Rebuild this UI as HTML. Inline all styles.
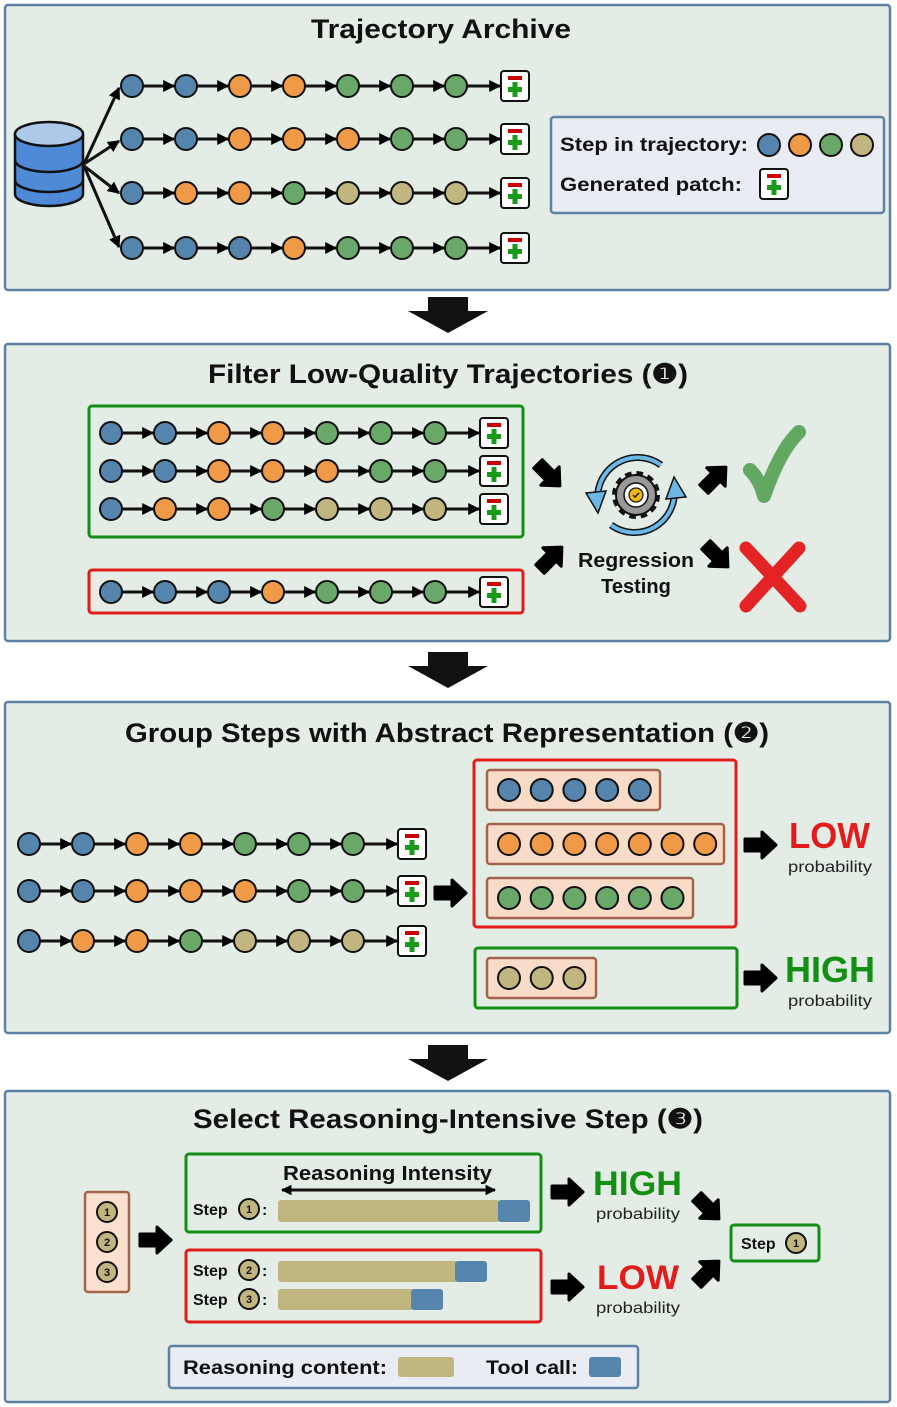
<!DOCTYPE html>
<html><head><meta charset="utf-8"><style>
html,body{margin:0;padding:0;background:#fff}
svg{display:block;font-family:"Liberation Sans",sans-serif}
.t{font-weight:bold;fill:#111}
</style></head><body>
<svg id="s" width="897" height="1407" viewBox="0 0 897 1407" xmlns="http://www.w3.org/2000/svg">
<defs>
<marker id="ah" viewBox="0 0 10 10" refX="9" refY="5" markerWidth="4.5" markerHeight="4" orient="auto"><path d="M0,0L10,5L0,10z" fill="#000"/></marker>
<marker id="ah2" viewBox="0 0 10 10" refX="9" refY="5" markerWidth="3.5" markerHeight="3.5" orient="auto-start-reverse"><path d="M0,0L10,5L0,10z" fill="#000"/></marker>
<path id="fat" d="M-17,-6L0,-6L0,-13L14,0L0,13L0,6L-17,6z" fill="#000" stroke="#000" stroke-width="3" stroke-linejoin="round"/>
<g id="patch"><rect x="-14" y="-15" width="28" height="30" rx="3" fill="#fff" stroke="#111" stroke-width="2"/><rect x="-7" y="-10" width="14" height="4" fill="#c00"/><rect x="-7" y="1" width="14" height="5" fill="#1a9a1a"/><rect x="-2.5" y="-4" width="5" height="15" fill="#1a9a1a"/></g>
</defs>
<g fill="#e3ece5" stroke="#5e80a4" stroke-width="2.5">
<rect x="5" y="5" width="885" height="285" rx="3"/>
<rect x="5" y="344" width="885" height="297" rx="3"/>
<rect x="5" y="702" width="885" height="331" rx="3"/>
<rect x="5" y="1091" width="885" height="311" rx="3"/>
</g>
<g fill="#111">
<path d="M428,297h40v14h20l-40,22l-40,-22h20z"/>
<path d="M428,652h40v14h20l-40,22l-40,-22h20z"/>
<path d="M428,1045h40v14h20l-40,22l-40,-22h20z"/>
</g>
<text class="t" x="311" y="38" font-size="27" textLength="260" lengthAdjust="spacingAndGlyphs">Trajectory Archive</text>
<text class="t" x="208" y="383" font-size="27" textLength="480" lengthAdjust="spacingAndGlyphs">Filter Low-Quality Trajectories (❶)</text>
<text class="t" x="125" y="742" font-size="27" textLength="644" lengthAdjust="spacingAndGlyphs">Group Steps with Abstract Representation (❷)</text>
<text class="t" x="193" y="1128" font-size="27" textLength="510" lengthAdjust="spacingAndGlyphs">Select Reasoning-Intensive Step (❸)</text>

<g stroke="#111" stroke-width="2.5">
<path d="M15,134v60a34,12 0 0 0 68,0v-60z" fill="#4f8ad6"/>
<ellipse cx="49" cy="134" rx="34" ry="12" fill="#aec8ea"/>
<path d="M15,160a34,12 0 0 0 68,0M15,180a34,12 0 0 0 68,0" fill="none"/>
</g>
<g stroke="#111" stroke-width="3" fill="none" marker-end="url(#ah)">
<path d="M84,164L119,88"/><path d="M84,164L119,141"/><path d="M84,166L119,193"/><path d="M84,166L119,247"/>
</g>

<rect x="551" y="117" width="333" height="96" rx="3" fill="#e9ecf2" stroke="#5e80a4" stroke-width="2.5"/>
<text class="t" x="560" y="151" font-size="19" textLength="188" lengthAdjust="spacingAndGlyphs">Step in trajectory:</text>
<text class="t" x="560" y="191" font-size="19" textLength="182" lengthAdjust="spacingAndGlyphs">Generated patch:</text>
<use href="#patch" x="774" y="184"/>

<rect x="89" y="406" width="434" height="131" rx="3" fill="none" stroke="#139013" stroke-width="3"/>
<rect x="89" y="570" width="434" height="43" rx="3" fill="none" stroke="#e21b1b" stroke-width="3"/>
<use href="#fat" transform="translate(550,476) rotate(45)"/>
<use href="#fat" transform="translate(552,557) rotate(-45)"/>
<use href="#fat" transform="translate(716,477) rotate(-45)"/>
<use href="#fat" transform="translate(718,557) rotate(45)"/>
<g transform="translate(636,495)">
<path d="M-38,8A40,40 0 0 1 25,-30" fill="none" stroke="#111" stroke-width="7"/>
<path d="M-38,8A40,40 0 0 1 25,-30" fill="none" stroke="#6bb7e6" stroke-width="4"/>
<path d="M38,-8A40,40 0 0 1 -25,30" fill="none" stroke="#111" stroke-width="7"/>
<path d="M38,-8A40,40 0 0 1 -25,30" fill="none" stroke="#6bb7e6" stroke-width="4"/>
<path d="M-50,-2L-38,18L-30,-4z" fill="#6bb7e6" stroke="#111" stroke-width="1.5"/>
<path d="M50,2L38,-18L30,4z" fill="#6bb7e6" stroke="#111" stroke-width="1.5"/>
<circle r="20" fill="#999" stroke="#111" stroke-width="8" stroke-dasharray="6 4.5"/>
<circle r="20" fill="#999" stroke="#111" stroke-width="2"/>
<circle r="12" fill="#fff" stroke="#111" stroke-width="1.5"/>
<circle r="7" fill="#f2b811" stroke="#111" stroke-width="1.2"/>
<path d="M-3,0l2,2l4,-4" stroke="#111" stroke-width="1.5" fill="none"/>
</g>
<text class="t" x="578" y="567" font-size="20" textLength="116" lengthAdjust="spacingAndGlyphs">Regression</text>
<text class="t" x="636" y="593" font-size="20" text-anchor="middle">Testing</text>
<path d="M750,470Q760,480 764,496Q780,450 799,432" fill="none" stroke="#62a862" stroke-width="14" stroke-linecap="round" stroke-linejoin="round"/>
<path d="M746,548L800,606M799,548L746,606" stroke="#e42424" stroke-width="13" stroke-linecap="round"/>

<use href="#fat" transform="translate(452,893)"/>
<rect x="474" y="760" width="262" height="167" rx="3" fill="none" stroke="#e21b1b" stroke-width="3"/>
<rect x="475" y="948" width="262" height="60" rx="3" fill="none" stroke="#139013" stroke-width="3"/>
<g fill="#f9dcc8" stroke="#a4634a" stroke-width="2.5">
<rect x="487" y="770" width="173" height="40" rx="3"/>
<rect x="487" y="824" width="237" height="40" rx="3"/>
<rect x="487" y="878" width="206" height="40" rx="3"/>
<rect x="487" y="958" width="109" height="40" rx="3"/>
</g>
<use href="#fat" transform="translate(762,845)"/>
<use href="#fat" transform="translate(762,978)"/>
<text x="789" y="848" font-size="36" font-weight="bold" fill="#e21b1b" textLength="81" lengthAdjust="spacingAndGlyphs">LOW</text>
<text x="788" y="872" font-size="16" fill="#222" textLength="84" lengthAdjust="spacingAndGlyphs">probability</text>
<text x="785" y="982" font-size="36" font-weight="bold" fill="#139013" textLength="90" lengthAdjust="spacingAndGlyphs">HIGH</text>
<text x="788" y="1006" font-size="16" fill="#222" textLength="84" lengthAdjust="spacingAndGlyphs">probability</text>

<rect x="85" y="1192" width="44" height="100" rx="3" fill="#fbe0d0" stroke="#a4634a" stroke-width="2.5"/>
<use href="#fat" transform="translate(157,1240)"/>
<rect x="186" y="1154" width="355" height="78" rx="3" fill="none" stroke="#139013" stroke-width="3"/>
<rect x="186" y="1250" width="355" height="72" rx="3" fill="none" stroke="#e21b1b" stroke-width="3"/>
<text class="t" x="283" y="1180" font-size="20" textLength="209" lengthAdjust="spacingAndGlyphs">Reasoning Intensity</text>
<path d="M282,1190H495" stroke="#111" stroke-width="3" marker-start="url(#ah2)" marker-end="url(#ah2)"/>
<g class="t" font-size="16"><text x="193" y="1215">Step</text><text x="193" y="1276">Step</text><text x="193" y="1305">Step</text>
<text x="262" y="1215">:</text><text x="262" y="1276">:</text><text x="262" y="1305">:</text></g>
<rect x="278" y="1200" width="222" height="22" rx="3" fill="#c2b680"/>
<rect x="498" y="1200" width="32" height="22" rx="3" fill="#5584ad"/>
<rect x="278" y="1261" width="180" height="21" rx="3" fill="#c2b680"/>
<rect x="455" y="1261" width="32" height="21" rx="3" fill="#5584ad"/>
<rect x="278" y="1289" width="136" height="21" rx="3" fill="#c2b680"/>
<rect x="411" y="1289" width="32" height="21" rx="3" fill="#5584ad"/>
<use href="#fat" transform="translate(569,1192)"/>
<use href="#fat" transform="translate(569,1287)"/>
<text x="593" y="1195" font-size="34" font-weight="bold" fill="#139013" textLength="89" lengthAdjust="spacingAndGlyphs">HIGH</text>
<text x="596" y="1219" font-size="16" fill="#222" textLength="84" lengthAdjust="spacingAndGlyphs">probability</text>
<text x="597" y="1289" font-size="34" font-weight="bold" fill="#e21b1b" textLength="82" lengthAdjust="spacingAndGlyphs">LOW</text>
<text x="596" y="1313" font-size="16" fill="#222" textLength="84" lengthAdjust="spacingAndGlyphs">probability</text>
<use href="#fat" transform="translate(709,1209) rotate(45)"/>
<use href="#fat" transform="translate(709,1271) rotate(-45)"/>
<rect x="731" y="1225" width="88" height="36" rx="3" fill="#e3ece5" stroke="#139013" stroke-width="3"/>
<text class="t" x="741" y="1249" font-size="16">Step</text>
<rect x="169" y="1346" width="469" height="42" rx="3" fill="#e9ecf2" stroke="#5e80a4" stroke-width="2.5"/>
<text class="t" x="183" y="1374" font-size="19" textLength="204" lengthAdjust="spacingAndGlyphs">Reasoning content:</text>
<rect x="398" y="1357" width="56" height="20" rx="3" fill="#c2b680"/>
<text class="t" x="486" y="1374" font-size="19" textLength="92" lengthAdjust="spacingAndGlyphs">Tool call:</text>
<rect x="589" y="1357" width="32" height="20" rx="3" fill="#5584ad"/>
<g id="dyn"></g>
</svg>
<script>
var C={B:"#5584ad",O:"#f09a48",G:"#6aa86a",T:"#c2b680"};
var g=document.getElementById("dyn"),NS="http://www.w3.org/2000/svg";
function el(t,a){var e=document.createElementNS(NS,t);for(var k in a)e.setAttribute(k,a[k]);g.appendChild(e);return e;}
function circ(x,y,c,r){el("circle",{cx:x,cy:y,r:r||11,fill:C[c],stroke:"#111","stroke-width":2});}
function chain(x0,y,s,px){var xs=[];for(var i=0;i<7;i++)xs.push(x0+54*i);
 for(var i=0;i<7;i++){var x1=xs[i]+11,x2=(i<6?xs[i+1]-11:px-14)-1;el("line",{x1:x1,y1:y,x2:x2,y2:y,stroke:"#111","stroke-width":3,"marker-end":"url(#ah)"});}
 for(var i=0;i<7;i++)circ(xs[i],y,s[i]);
 var u=el("use",{x:px,y:y});u.setAttribute("href","#patch");}
var R=["BBOOGGG","BBOOOGG","BOOGTTT","BBBOGGG"];
[86,139,193,248].forEach(function(y,i){chain(132,y,R[i],515);});
[433,471,509].forEach(function(y,i){chain(111,y,R[i],494);});
chain(111,592,R[3],494);
[844,891,941].forEach(function(y,i){chain(29,y,R[i],412);});
["B","O","G","T"].forEach(function(c,i){circ(769+31*i,145,c);});
function row(c,n,y){for(var i=0;i<n;i++)circ(509+32.7*i,y,c);}
row("B",5,790);row("O",7,844);row("G",6,898);row("T",3,978);
function num(x,y,n,r){circ(x,y,"T",r);var t=el("text",{x:x,y:y+4,"font-size":11,"font-weight":"bold","text-anchor":"middle",fill:"#111"});t.textContent=n;}
num(107,1212,"1",10);num(107,1242,"2",10);num(107,1272,"3",10);
num(249,1209,"1",10);num(249,1270,"2",10);num(249,1299,"3",10);num(796,1243,"1",10);
</script>
</body></html>
